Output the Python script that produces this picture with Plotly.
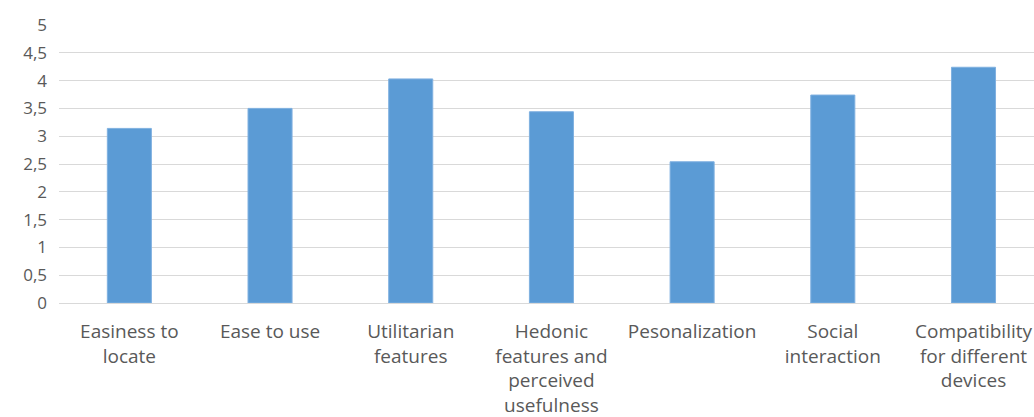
import plotly.graph_objects as go

categories = [
    "Easiness to<br>locate",
    "Ease to use",
    "Utilitarian<br>features",
    "Hedonic<br>features and<br>perceived<br>usefulness",
    "Pesonalization",
    "Social<br>interaction",
    "Compatibility<br>for different<br>devices",
]
values = [3.14, 3.5, 4.03, 3.44, 2.54, 3.74, 4.24]
y_ticks = [0, 0.5, 1, 1.5, 2, 2.5, 3, 3.5, 4, 4.5, 5]

fig = go.Figure(
    go.Bar(
        x=list(range(len(categories))),
        y=values,
        width=0.313,
        marker=dict(color="#5b9bd5", line=dict(color="#7fb0e0", width=1)),
    )
)

fig.update_layout(
    width=1034,
    height=417,
    margin=dict(l=59, r=0, t=25, b=114),
    paper_bgcolor="white",
    plot_bgcolor="white",
    separators=", ",
    showlegend=False,
    font=dict(family="Open Sans", size=17, color="#595959"),
)
fig.update_xaxes(
    range=[-0.5, 6.43],
    tickmode="array",
    tickvals=list(range(len(categories))),
    ticktext=categories,
    showgrid=False,
    showline=True,
    linecolor="#d9d9d9",
    linewidth=1,
    ticks="",
    ticklabelstandoff=11,
    tickangle=0,
    automargin=False,
    tickfont=dict(size=19, color="#595959"),
)
fig.update_yaxes(
    range=[0, 5],
    tickmode="array",
    tickvals=y_ticks,
    showgrid=True,
    gridcolor="#d9d9d9",
    gridwidth=1,
    zeroline=False,
    showline=False,
    ticks="",
    ticklabelstandoff=11,
    automargin=False,
    tickfont=dict(size=17, color="#595959"),
)

fig.write_html("out.html")
